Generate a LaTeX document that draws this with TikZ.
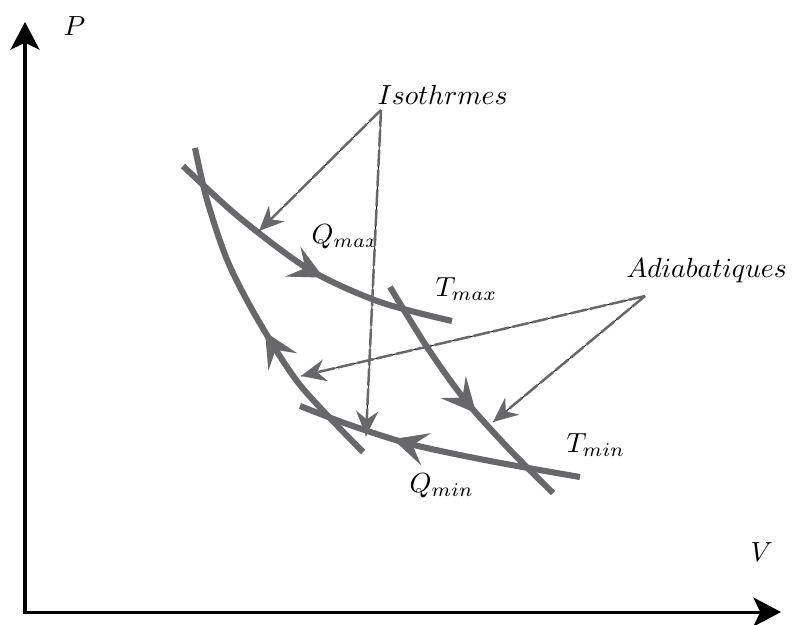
\documentclass[tikz,border=0pt]{standalone}
\usepackage{amsmath}
\usepackage{tikz}
\usetikzlibrary{arrows.meta,decorations.markings}

\definecolor{cyclegray}{RGB}{104,104,106}

\tikzset{
	pvaxis/.style={line width=1.1pt,{Stealth[length=10pt,width=10.5pt,inset=2.5pt]}-{Stealth[length=10pt,width=10.5pt,inset=2.5pt]}},
	thermo/.style={draw=cyclegray,line width=2.2pt},
	flowfwd/.style={postaction={decorate,decoration={markings,mark=at position #1 with {\arrow[cyclegray]{Stealth[length=12.5pt,width=12pt,inset=5pt]}}}}},
	flowback/.style={postaction={decorate,decoration={markings,mark=at position #1 with {\arrowreversed[cyclegray]{Stealth[length=12.5pt,width=12pt,inset=5pt]}}}}},
	pointer/.style={draw=cyclegray,line width=0.9pt,dash pattern=on 6pt off 1.2pt,
		preaction={draw=black,line width=0.3pt,solid,arrows=-},
		-{Stealth[length=9pt,width=8pt,inset=3pt,fill=cyclegray]}},
	lbl/.style={anchor=base west,inner sep=0pt}
}

\begin{document}
\begin{tikzpicture}[x=0.127mm,y=-0.127mm]
	
	\useasboundingbox (0,0) rectangle (792,624);
	
	% axes
	\coordinate (ptop) at (25,22);
	\coordinate (O) at (25,612);
	\coordinate (vend) at (781,612);
	\draw[pvaxis] (ptop)--(O)--(vend);
	
	\node[lbl] (lblP) at (63,35){$P$};
	
	\node[lbl] (lblV) at (750,561){$V$};
	
	% isotherms
	\draw[thermo,flowfwd=0.57] plot[smooth] coordinates {(183,166) (240,218) (310,270) (380,302) (452,321)};
	
	\draw[thermo,flowback=0.34] plot[smooth] coordinates {(300,406) (350,425) (410,444) (490,461) (580,477)};
	
	% adiabats
	\draw[thermo,flowback=0.56] plot[smooth] coordinates {(195,148) (207,200) (228,262) (258,320) (300,385) (363,452)};
	
	\draw[thermo,flowfwd=0.58] plot[smooth] coordinates {(390,287) (427,347) (465,400) (510,450) (553,493)};
	
	% labels
	\node[lbl] (lblQmax) at (311,243){$Q_{max}$};
	
	\node[lbl] (lblTmax) at (435,296){$T_{max}$};
	
	\node[lbl] (lblTmin) at (566,452){$T_{min}$};
	
	\node[lbl] (lblQmin) at (409,492){$Q_{min}$};
	
	\node[lbl] (lblIso) at (377,104){$Isothrmes$};
	
	\node[lbl] (lblAdia) at (626,277){$Adiabatiques$};
	
	% pointers
	\coordinate (isofoot) at (381,110);
	\coordinate (isoA) at (259,231);
	\coordinate (isoB) at (366,436);
	\coordinate (adiafoot) at (645,296);
	\coordinate (adiaA) at (301,376);
	\coordinate (adiaB) at (493,422);
	
	\draw[pointer] (isofoot)--(isoA);
	\draw[pointer] (isofoot)--(isoB);
	\draw[pointer] (adiafoot)--(adiaA);
	\draw[pointer] (adiafoot)--(adiaB);
	
\end{tikzpicture}
\end{document}
